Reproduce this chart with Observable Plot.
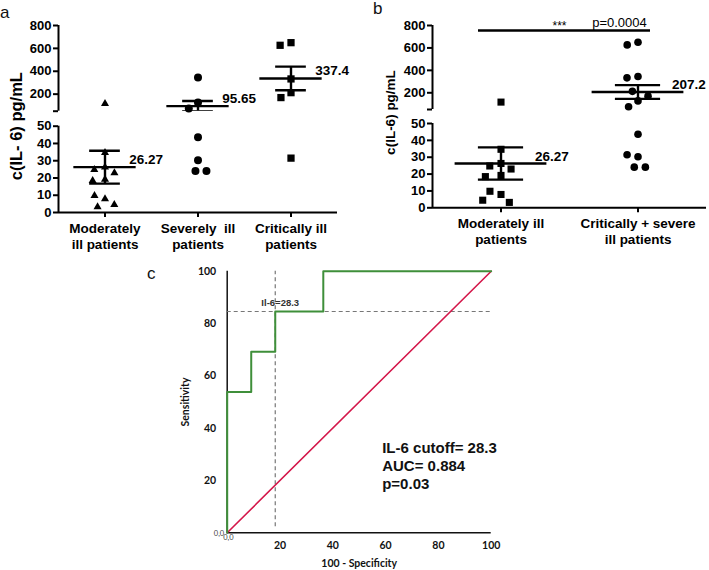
<!DOCTYPE html>
<html><head><meta charset="utf-8">
<script src="https://cdn.jsdelivr.net/npm/d3@7"></script>
<script src="https://cdn.jsdelivr.net/npm/@observablehq/plot@0.6"></script>
<style>
body{margin:0;background:#fff;}
#fig{position:relative;width:709px;height:570px;background:#fff;overflow:hidden;font-family:"Liberation Sans",Arial,sans-serif;}
.panel{position:absolute;}
.letter{position:absolute;font-size:17px;line-height:1;color:#111;font-family:"Liberation Sans",Arial,sans-serif;}
</style></head><body>
<div id="fig"></div>
<script>
// ---------------- data ----------------
const catsA = ["Moderately\nill patients", "Severely  ill\npatients", "Critically ill\npatients"];
const moderate = [117, 34.7, 26.3, 24.8, 23, 19.2, 18.5, 7.9, 9.8, 3.2, 4.5];
const severe = [345, 127.5, 75, 43.6, 30.3, 24.1, 24.1];
const critical = [650, 627, 333, 213, 170, 31.5];
const meanLabelsA = ["26.27", "95.65", "337.4"];
const catsB = ["Moderately ill\npatients", "Critically + severe\nill patients"];
const meanLabelsB = ["26.27", "207.2"];
const yLowerTicks = [0, 10, 20, 30, 40, 50];
const yUpperTicks = [200, 400, 600, 800];
const yBreak = [50, 51];            // lower segment ends at 50, upper segment starts at 51
const yLabelA = "c(IL- 6) pg/mL";
const yLabelB = "c(IL-6) pg/mL";
const sigY = 756, sigStars = "***", sigP = "p=0.0004";
const rocFpr  = [0, 0, 9.1, 9.1, 18.2, 18.2, 36.4, 36.4, 100];
const rocSens = [0, 53.8, 53.8, 69.2, 69.2, 84.6, 84.6, 100, 100];
const chanceX = [0, 100], chanceY = [0, 100];
const cutoffX = 18.2, cutoffY = 84.6;
const cutoffLabel = "Il-6=28.3";
const rocTicks = [20, 40, 60, 80, 100];
const originLabel = "0,0";
const statsText = ["IL-6 cutoff= 28.3", "AUC= 0.884", "p=0.03"];

// ---------------- helpers ----------------
const fig = document.getElementById("fig");
function place(node, left, top, width) {
  const d = document.createElement("div");
  d.className = "panel"; d.style.left = left + "px"; d.style.top = top + "px"; d.style.width = width + "px";
  d.appendChild(node); fig.appendChild(d);
}
function letter(t, left, top) {
  const d = document.createElement("div"); d.className = "letter";
  d.style.left = left + "px"; d.style.top = top + "px"; d.textContent = t; fig.appendChild(d);
}
function stats(cats, groups, labels) {
  return cats.map((c, i) => {
    const v = groups[i], m = d3.mean(v), se = d3.deviation(v) / Math.sqrt(v.length);
    return {cat: c, mean: m, lo: m - se, hi: m + se, label: labels[i]};
  });
}
const baseStyle = {fontFamily: "'Liberation Sans', Arial, sans-serif", fontWeight: "bold", fontSize: "13px",
  color: "#000", background: "transparent", overflow: "visible"};
const yTop = yUpperTicks[yUpperTicks.length - 1];

// one segment (upper or lower) of a broken-axis column scatter
function segment(o) {
  const {cats, groups, st, shapes, lower, width, height, marginLeft, marginRight, marginTop, marginBottom,
         labelDx, yLabel, yLabelSize, yLabelDx, yLabelDy} = o;
  const dom = lower ? [0, yBreak[0]] : [yBreak[1], yTop];
  const inSeg = v => lower ? v <= yBreak[0] : v > yBreak[0];
  const ticks = lower ? yLowerTicks : [yBreak[1], ...yUpperTicks];
  const lw = 2.4;
  const dots = cats.map((c, i) => Plot.dot(groups[i].filter(inSeg).map(v => ({cat: c, value: v})),
    Plot.dodgeX({anchor: "middle", padding: shapes[i][2]},
      {fx: "cat", y: "value", symbol: shapes[i][0], r: shapes[i][1], fill: "#000"})));
  const marks = [
    Plot.ruleX([dom], {fx: () => cats[0], x: -1, y1: d => d[0], y2: d => d[1], strokeWidth: 2}),
    Plot.axisY({ticks, tickSize: 5, tickPadding: 2, strokeWidth: 2, fontSize: 13,
      tickFormat: d => (d === yBreak[1] ? "" : String(d)), label: null}),
    Plot.ruleY(st, {fx: "cat", y: "mean", x1: -0.67, x2: 0.67, strokeWidth: lw, clip: true}),
    Plot.ruleY(st, {fx: "cat", y: "hi", x1: -0.33, x2: 0.33, strokeWidth: lw, clip: true}),
    Plot.ruleY(st, {fx: "cat", y: "lo", x1: -0.33, x2: 0.33, strokeWidth: lw, clip: true}),
    Plot.ruleX(st, {fx: "cat", x: 0, y1: "lo", y2: "hi", strokeWidth: lw, clip: true}),
    ...dots,
    Plot.text(st.filter(d => inSeg(d.mean)), {fx: "cat", x: 0.67, y: "mean", text: "label", textAnchor: "start",
      lineAnchor: "bottom", dx: labelDx, dy: -3, fontSize: 13.5})
  ];
  if (lower) {
    marks.push(Plot.ruleY([0], {strokeWidth: 2}));
    marks.push(Plot.axisFx({anchor: "bottom", tickSize: 5, tickPadding: 4, strokeWidth: 2, fontSize: 13.5,
      lineHeight: 1.19, label: null}));
  } else {
    marks.push(Plot.text([yLabel], {fx: () => cats[0], frameAnchor: "bottom-left", rotate: -90,
      textAnchor: "middle", lineAnchor: "middle", dx: yLabelDx, dy: yLabelDy, fontSize: yLabelSize}));
  }
  return Plot.plot({
    width, height, marginLeft, marginRight, marginTop, marginBottom, style: baseStyle,
    x: {domain: [-1, 1], axis: null},
    y: {domain: dom},
    fx: {domain: cats, padding: 0, axis: null},
    marks
  });
}

function scatterPanel(o, left) {
  const st = stats(o.cats, o.groups, o.labels);
  const common = {...o, st};
  const split = Math.round((o.upperBottom + o.lowerTop) / 2);
  place(segment({...common, lower: false, height: split, marginTop: o.top, marginBottom: split - o.upperBottom}), left, 0, o.width);
  place(segment({...common, lower: true, height: o.height - split, marginTop: o.lowerTop - split,
    marginBottom: o.height - o.bottom}), left, split, o.width);
}

// ---------------- panel a ----------------
scatterPanel({cats: catsA, groups: [moderate, severe, critical], labels: meanLabelsA,
  shapes: [["triangle", 3, 5], ["circle", 4, 3], ["square", 4.1, 3]], yLabel: yLabelA, yLabelSize: 16.5,
  width: 350, height: 255, marginLeft: 57, marginRight: 12, top: 25, upperBottom: 110.7, lowerTop: 125.7, bottom: 212,
  labelDx: -7, yLabelDx: -41.5, yLabelDy: 15}, 0);

// ---------------- panel b ----------------
const B = {width: 359, height: 255, marginLeft: 81.7, marginRight: 2.7, top: 25, upperBottom: 109, lowerTop: 123, bottom: 207.3};
scatterPanel({...B, cats: catsB, groups: [moderate, severe.concat(critical)], labels: meanLabelsB,
  shapes: [["square", 4, 3.5], ["circle", 3.8, 3.5]], yLabel: yLabelB, yLabelSize: 13.5,
  labelDx: -12, yLabelDx: -41.7, yLabelDy: 3}, 350);

// significance bracket overlay (upper segment geometry of panel b, no facets)
const sig = [{from: catsB[0], to: catsB[1], y: sigY, stars: sigStars, p: sigP}];
place(Plot.plot({
  width: B.width, height: 116, marginLeft: B.marginLeft, marginRight: B.marginRight,
  marginTop: B.top, marginBottom: 116 - B.upperBottom, style: baseStyle,
  x: {type: "point", domain: catsB, padding: 0.5, axis: null},
  y: {domain: [yBreak[1], yTop], axis: null},
  marks: [
    Plot.ruleY(sig, {x1: "from", x2: "to", y: "y", insetLeft: -23, insetRight: -12, strokeWidth: 2.5}),
    Plot.text(sig, {x: "to", y: "y", text: "stars", dx: -79, dy: 0, lineAnchor: "bottom", fontWeight: "normal", fontSize: 12}),
    Plot.text(sig, {x: "to", y: "y", text: "p", dx: -19, dy: -3, lineAnchor: "bottom", fontWeight: "normal", fontSize: 13})
  ]
}), 350, 0, B.width);

// ---------------- panel c ----------------
const roc = rocFpr.map((x, i) => ({x, y: rocSens[i]}));
const chance = chanceX.map((x, i) => ({x, y: chanceY[i]}));
const C = {width: 420, height: 320, marginLeft: 86.7, marginRight: 69.3, marginTop: 20.7, marginBottom: 37.7};
place(Plot.plot({
  ...C,
  style: {...baseStyle, fontFamily: "Lato, 'Open Sans', sans-serif", fontSize: "10.5px", color: "#111"},
  x: {domain: [0, 100], ticks: rocTicks, tickSize: 0, tickPadding: 9, label: "100 - Specificity",
      labelAnchor: "center", labelOffset: 34, labelArrow: "none"},
  y: {domain: [0, 100], ticks: rocTicks, tickSize: 0, tickPadding: 11, label: "Sensitivity",
      labelAnchor: "center", labelOffset: 46, labelArrow: "none"},
  marks: [
    Plot.ruleX([0], {y1: 0, y2: 100, stroke: "#111", strokeWidth: 1.5}),
    Plot.ruleY([0], {x1: 0, x2: 100, stroke: "#111", strokeWidth: 1.5}),
    Plot.ruleY([cutoffY], {stroke: "#777", strokeDasharray: "4,3", strokeWidth: 1.2}),
    Plot.ruleX([cutoffX], {y1: 0, y2: 100, insetTop: -6, stroke: "#777", strokeDasharray: "4,3", strokeWidth: 1.2}),
    Plot.line(chance, {x: "x", y: "y", stroke: "#d4174a", strokeWidth: 1.6}),
    Plot.line(roc, {x: "x", y: "y", stroke: "#3f8f3a", strokeWidth: 2}),
    Plot.text([cutoffLabel], {x: cutoffX, y: cutoffY, dx: 5, dy: -9, fontSize: 9.5, fontWeight: 600, fill: "#333",
      fontFamily: "'Liberation Sans', Arial, sans-serif"}),
    Plot.text([originLabel], {x: 0, y: 0, textAnchor: "end", dx: -3, dy: 1, fontSize: 7.5, fontWeight: "normal", fill: "#444"}),
    Plot.text([originLabel], {x: 0, y: 0, textAnchor: "start", dx: -4, dy: 5, fontSize: 7.5, fontWeight: "normal", fill: "#444"}),
    Plot.text([statsText.join("\n")], {frameAnchor: "bottom-left", textAnchor: "start", lineAnchor: "bottom",
      dx: 155, dy: -44, fontSize: 15, lineHeight: 1.2, fill: "#111", fontFamily: "'Liberation Sans', Arial, sans-serif"})
  ]
}), 140, 250, C.width);

letter("a", 0, 4);
letter("b", 373, 0);
letter("c", 147, 265);
</script>
</body></html>
